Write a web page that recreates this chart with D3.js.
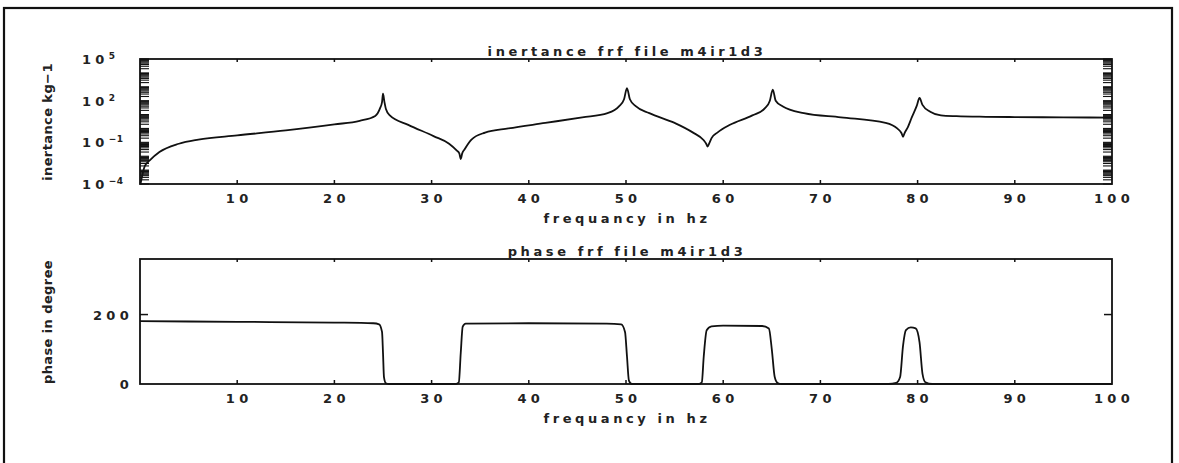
<!DOCTYPE html>
<html>
<head>
<meta charset="utf-8">
<script src="https://cdn.jsdelivr.net/npm/d3@7"></script>
<style>
  body { margin: 0; background: #fff; }
  svg { display: block; }
  text { font-family: "DejaVu Sans", sans-serif; fill: #222; font-weight: bold; }
  .tick-label { font-size: 13px; letter-spacing: 4.3px; }
  .title { font-size: 13px; letter-spacing: 3.6px; }
  .ylabel { font-size: 13px; letter-spacing: 0.4px; }
</style>
</head>
<body>
<svg id="chart"></svg>
<script>
// inertance frf (magnitude, log scale)
let inertFreq = [0.05, 0.5, 1, 2, 4, 6, 10, 15, 20, 22.6, 24.2, 24.7, 24.9, 25.0, 25.15, 25.3, 25.7, 27.6, 30.2, 31.8, 32.6, 32.85, 33.0, 33.15, 33.4, 34.1, 35.5, 37.9, 41.7, 45.5, 48.1, 49.3, 49.8, 50.1, 50.4, 51.0, 52.4, 55.0, 56.9, 58.0, 58.25, 58.4, 58.55, 58.8, 59.4, 60.7, 63.0, 64.3, 64.8, 65.1, 65.4, 66.1, 68.3, 72.1, 76.7, 77.9, 78.35, 78.5, 78.65, 79.0, 79.4, 79.9, 80.2, 80.5, 81.3, 82.4, 84, 87, 90, 95, 100];
let inertVal  = [1e-4, 0.002, 0.005, 0.02, 0.079, 0.158, 0.316, 0.72, 1.95, 3.55, 7.9, 28.8, 79, 316, 79, 25, 8.7, 1.82, 0.28, 0.079, 0.025, 0.016, 0.0063, 0.016, 0.032, 0.158, 0.5, 1.0, 2.5, 6.3, 12.6, 40, 126, 794, 126, 40, 12.6, 2.5, 0.5, 0.14, 0.08, 0.05, 0.08, 0.2, 0.5, 1.82, 8.7, 28.8, 100, 631, 100, 40, 12.6, 6.3, 2.5, 1.0, 0.45, 0.25, 0.45, 1.26, 6.3, 40, 158, 50, 15.8, 8.7, 7.6, 6.9, 6.6, 6.3, 6.0];

// phase frf
let phaseFreq = [0, 10, 20, 24, 24.6, 24.9, 25.0, 25.1, 25.3, 25.6, 32.5, 32.8, 33.0, 33.2, 33.5, 40, 48, 49.5, 49.9, 50.1, 50.3, 50.6, 57.5, 57.8, 58.0, 58.3, 58.8, 60, 64, 64.7, 65.0, 65.3, 65.6, 66, 77, 77.8, 78.2, 78.5, 78.8, 79.3, 79.8, 80.2, 80.5, 80.8, 81.5, 100];
let phaseVal  = [181, 179, 177, 175, 172, 150, 90, 20, 2, 0, 0, 5, 90, 165, 174, 175, 174, 172, 150, 80, 10, 0, 0, 5, 80, 155, 166, 168, 167, 160, 100, 20, 3, 0, 0, 3, 20, 110, 155, 163, 160, 120, 30, 5, 0, 0];

let xTicks = [10, 20, 30, 40, 50, 60, 70, 80, 90, 100];
let logTickExps = [5, 2, -1, -4];
let phaseTicks = [0, 200];

let W = 1179, H = 463;
let svg = d3.select("#chart").attr("width", W).attr("height", H);

// outer frame
svg.append("rect")
  .attr("x", 4).attr("y", 8)
  .attr("width", 1168).attr("height", 470)
  .attr("fill", "none").attr("stroke", "#111").attr("stroke-width", 2.2);

let plotLeft = 140, plotRight = 1112;
let x = d3.scaleLinear().domain([0, 100]).range([plotLeft, plotRight]);

function frame(g, y0, y1) {
  g.append("rect")
    .attr("x", plotLeft).attr("y", y0)
    .attr("width", plotRight - plotLeft).attr("height", y1 - y0)
    .attr("fill", "none").attr("stroke", "#111").attr("stroke-width", 1.8);
  // small inward ticks on top and bottom borders
  xTicks.filter(d => d < 100).forEach(function(d) {
    g.append("line").attr("x1", x(d)).attr("x2", x(d)).attr("y1", y0).attr("y2", y0 + 3)
      .attr("stroke", "#111").attr("stroke-width", 1.5);
    g.append("line").attr("x1", x(d)).attr("x2", x(d)).attr("y1", y1).attr("y2", y1 - 4)
      .attr("stroke", "#111").attr("stroke-width", 1.5);
  });
  g.selectAll(".xl").data(xTicks).enter().append("text")
    .attr("class", "tick-label")
    .attr("x", d => x(d) + 2)
    .attr("y", y1 + 19)
    .attr("text-anchor", "middle")
    .text(d => d);
  g.append("text").attr("class", "title")
    .attr("x", 627).attr("y", y1 + 39)
    .attr("text-anchor", "middle")
    .text("frequancy in hz");
}

// ---- top panel: inertance ----
let t1 = 59, b1 = 184;
let panel1 = svg.append("g");
let yLog = d3.scaleLog().domain([1e-4, 1e5]).range([b1, t1]);
frame(panel1, t1, b1);

// log minor ticks on both sides
let minor = [];
for (let e = -4; e < 5; e++) {
  for (let m = 1; m < 10; m++) minor.push(m * Math.pow(10, e));
}
minor.push(1e5);
minor.forEach(function(v) {
  panel1.append("line").attr("x1", plotLeft).attr("x2", plotLeft + 9)
    .attr("y1", yLog(v)).attr("y2", yLog(v)).attr("stroke", "#111").attr("stroke-width", 1.1);
  panel1.append("line").attr("x1", plotRight).attr("x2", plotRight - 9)
    .attr("y1", yLog(v)).attr("y2", yLog(v)).attr("stroke", "#111").attr("stroke-width", 1.1);
});

let ylab = panel1.selectAll(".yl").data(logTickExps).enter().append("text")
  .attr("class", "tick-label")
  .attr("x", 82)
  .attr("y", d => yLog(Math.pow(10, d)) + 5);
ylab.append("tspan").text("10");
ylab.append("tspan").attr("dy", -5).attr("font-size", 9).attr("letter-spacing", 0.5)
  .text(d => d < 0 ? "\u2212" + (-d) : d);

panel1.append("text").attr("class", "title")
  .attr("x", 627).attr("y", 56)
  .attr("text-anchor", "middle")
  .text("inertance frf file m4ir1d3");

panel1.append("text")
  .attr("class", "ylabel")
  .attr("transform", "translate(52,122) rotate(-90)")
  .attr("text-anchor", "middle")
  .text("inertance kg\u22121");

let inertLine = d3.line()
  .x((d, i) => x(inertFreq[i]))
  .y(d => yLog(d))
  .curve(d3.curveMonotoneX);
panel1.append("path")
  .datum(inertVal)
  .attr("d", inertLine)
  .attr("fill", "none").attr("stroke", "#111").attr("stroke-width", 1.8)
  .attr("stroke-linejoin", "round");

// ---- bottom panel: phase ----
let t2 = 259, b2 = 384;
let panel2 = svg.append("g");
let yPh = d3.scaleLinear().domain([0, 360]).range([b2, t2]);
frame(panel2, t2, b2);

phaseTicks.forEach(function(v) {
  if (v === 0) return;
  panel2.append("line").attr("x1", plotLeft).attr("x2", plotLeft + 8)
    .attr("y1", yPh(v)).attr("y2", yPh(v)).attr("stroke", "#111").attr("stroke-width", 1.5);
  panel2.append("line").attr("x1", plotRight).attr("x2", plotRight - 8)
    .attr("y1", yPh(v)).attr("y2", yPh(v)).attr("stroke", "#111").attr("stroke-width", 1.5);
});
panel2.selectAll(".yl").data(phaseTicks).enter().append("text")
  .attr("class", "tick-label")
  .attr("x", 133)
  .attr("y", d => yPh(d) + 5)
  .attr("text-anchor", "end")
  .text(d => d);

panel2.append("text").attr("class", "title")
  .attr("x", 627).attr("y", 256)
  .attr("text-anchor", "middle")
  .text("phase frf file m4ir1d3");

panel2.append("text")
  .attr("class", "ylabel")
  .attr("transform", "translate(52,322) rotate(-90)")
  .attr("text-anchor", "middle")
  .text("phase in degree");

let phaseLine = d3.line()
  .x((d, i) => x(phaseFreq[i]))
  .y(d => yPh(d))
  .curve(d3.curveMonotoneX);
panel2.append("path")
  .datum(phaseVal)
  .attr("d", phaseLine)
  .attr("fill", "none").attr("stroke", "#111").attr("stroke-width", 1.8);
</script>
</body>
</html>
